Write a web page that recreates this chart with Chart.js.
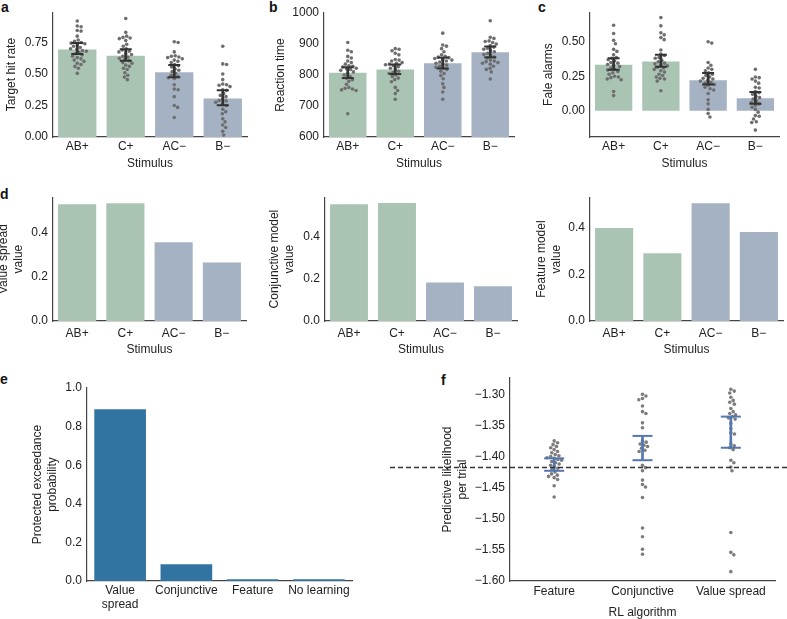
<!DOCTYPE html>
<html><head><meta charset="utf-8">
<script src="https://cdn.jsdelivr.net/npm/chart.js@4"></script>
<style>
html,body{margin:0;padding:0;background:#fff;width:787px;height:619px;overflow:hidden;position:relative;font-family:"Liberation Sans",Arial,Helvetica,sans-serif;}
canvas{position:absolute;}
.lbl{position:absolute;font-weight:bold;font-size:14px;line-height:1;color:#111;}
</style></head><body>
<div class="lbl" style="left:1px;top:0px">a</div>
<div class="lbl" style="left:269px;top:0px">b</div>
<div class="lbl" style="left:538px;top:0px">c</div>
<div class="lbl" style="left:0px;top:187px">d</div>
<div class="lbl" style="left:0px;top:372px">e</div>
<div class="lbl" style="left:441px;top:373px">f</div>
<canvas id="pa"></canvas><canvas id="pb"></canvas><canvas id="pc"></canvas>
<canvas id="pd1"></canvas><canvas id="pd2"></canvas><canvas id="pd3"></canvas>
<canvas id="pe"></canvas><canvas id="pf"></canvas>
<script>
// ---------------- DATA ----------------
const stimuli = ['AB+', 'C+', 'AC\u2212', 'B\u2212'];

// a: target hit rate
const aMeans  = [0.694, 0.645, 0.514, 0.306];
const aCiLow  = [0.658, 0.605, 0.473, 0.251];
const aCiHigh = [0.746, 0.697, 0.572, 0.371];
const aDotsABp = [0.92,0.88,0.875,0.845,0.84,0.80,0.77,0.76,0.75,0.745,0.74,0.73,0.72,0.71,0.70,0.695,0.685,0.68,0.67,0.66,0.65,0.64,0.63,0.62,0.61,0.60,0.585,0.575,0.56,0.545,0.505];
const aDotsCp  = [0.94,0.83,0.80,0.79,0.785,0.78,0.765,0.735,0.72,0.70,0.69,0.68,0.675,0.66,0.655,0.64,0.635,0.625,0.615,0.605,0.59,0.585,0.57,0.56,0.545,0.535,0.51,0.49,0.475,0.455];
const aDotsACm = [0.755,0.75,0.675,0.645,0.64,0.635,0.63,0.62,0.61,0.60,0.59,0.575,0.565,0.555,0.54,0.53,0.52,0.505,0.49,0.48,0.47,0.465,0.415,0.38,0.375,0.32,0.25,0.235,0.155];
const aDotsBm  = [0.72,0.58,0.575,0.50,0.455,0.42,0.415,0.41,0.40,0.375,0.37,0.345,0.33,0.32,0.30,0.29,0.285,0.275,0.26,0.25,0.22,0.20,0.185,0.145,0.12,0.095,0.075,0.045,0.015];
const aTicks = [0, 0.25, 0.5, 0.75];

// b: reaction time
const bMeans  = [807, 818, 838, 873];
const bCiLow  = [790, 803, 821, 857];
const bCiHigh = [825, 834, 856, 892];
const bDotsABp = [905,880,875,860,855,845,840,835,830,828,826,822,820,818,815,810,805,800,795,790,785,780,770,760,757,755,752,750,675];
const bDotsCp  = [885,883,878,870,865,850,848,845,840,838,835,833,830,827,822,818,812,808,805,800,795,790,785,778,760,750,740,722];
const bDotsACm = [935,897,893,885,875,865,860,858,856,853,850,848,845,842,838,835,832,828,825,822,818,812,805,798,788,772,760,745,722];
const bDotsBm  = [975,922,918,910,908,905,900,895,890,886,883,878,875,870,866,862,858,855,848,845,843,840,838,835,828,822,818,810,787];
const bTicks = [600, 700, 800, 900, 1000];

// c: false alarms
const cMeans  = [0.333, 0.357, 0.221, 0.091];
const cCiLow  = [0.298, 0.319, 0.190, 0.050];
const cCiHigh = [0.381, 0.405, 0.274, 0.136];
const cDotsABp = [0.62,0.56,0.51,0.485,0.445,0.43,0.405,0.385,0.38,0.37,0.36,0.35,0.345,0.335,0.33,0.32,0.31,0.30,0.295,0.285,0.275,0.265,0.25,0.245,0.24,0.23,0.225,0.14,0.11];
const cDotsCp  = [0.675,0.615,0.565,0.55,0.53,0.515,0.44,0.41,0.40,0.385,0.38,0.365,0.355,0.345,0.34,0.33,0.325,0.315,0.31,0.30,0.29,0.28,0.265,0.255,0.245,0.235,0.23,0.215,0.145];
const cDotsACm = [0.50,0.49,0.35,0.33,0.31,0.30,0.29,0.275,0.265,0.255,0.245,0.235,0.23,0.22,0.215,0.205,0.20,0.19,0.185,0.17,0.16,0.15,0.125,0.08,0.05,0.01,-0.02,-0.045];
const cDotsBm  = [0.30,0.245,0.24,0.23,0.215,0.20,0.17,0.165,0.14,0.13,0.12,0.105,0.095,0.085,0.07,0.06,0.05,0.04,0.025,0.01,-0.01,-0.035,-0.04,-0.06,-0.08,-0.085,-0.14];
const cTicks = [0, 0.25, 0.5];

// d: model values
const dValueSpread = [0.530, 0.535, 0.358, 0.265];
const dConjunctive = [0.554, 0.560, 0.183, 0.165];
const dFeature     = [0.400, 0.292, 0.507, 0.383];
const dTicks = [0, 0.2, 0.4];

// e: protected exceedance probability
const eModels = [['Value', 'spread'], 'Conjunctive', 'Feature', 'No learning'];
const eValues = [0.89, 0.0865, 0.009, 0.009];
const eTicks = [0, 0.2, 0.4, 0.6, 0.8, 1.0];

// f: predictive likelihood per trial
const fAlgorithms = ['Feature', 'Conjunctive', 'Value spread'];
const fCiLow  = [-1.423, -1.406, -1.386];
const fCiHigh = [-1.403, -1.367, -1.336];
const fBaseline = -1.4177;
const fDotsFeature = [-1.375,-1.378,-1.381,-1.384,-1.386,-1.389,-1.392,-1.394,-1.397,-1.399,-1.400,-1.402,-1.403,-1.405,-1.406,-1.408,-1.410,-1.412,-1.414,-1.416,-1.419,-1.421,-1.425,-1.428,-1.430,-1.432,-1.434,-1.437,-1.447,-1.465];
const fDotsConjunctive = [-1.300,-1.303,-1.307,-1.309,-1.319,-1.328,-1.331,-1.346,-1.354,-1.375,-1.377,-1.380,-1.382,-1.384,-1.387,-1.390,-1.392,-1.414,-1.418,-1.423,-1.438,-1.445,-1.449,-1.466,-1.515,-1.529,-1.549,-1.557];
const fDotsValueSpread = [-1.292,-1.295,-1.298,-1.305,-1.310,-1.313,-1.316,-1.323,-1.328,-1.331,-1.333,-1.336,-1.338,-1.340,-1.347,-1.355,-1.362,-1.364,-1.380,-1.383,-1.386,-1.389,-1.406,-1.410,-1.417,-1.423,-1.522,-1.554,-1.558,-1.585];
const fTicks = [-1.60, -1.55, -1.50, -1.45, -1.40, -1.35, -1.30];

// ---------------- STYLE / HELPERS ----------------
Chart.defaults.font.family = '"Liberation Sans", Arial, Helvetica, sans-serif';
Chart.defaults.font.size = 12;
Chart.defaults.color = '#222';
const GREEN = '#aac4b4', GREY = '#a4b2c4', BLUE = '#3274a1', AXIS = '#444';
const stimColors = [GREEN, GREEN, GREY, GREY];
const minus = s => s.replace('-', '\u2212');

function swarmOffsets(ys, d) {
  const idx = ys.map((y, i) => i).sort((a, b) => ys[a] - ys[b]);
  const placed = [], out = new Array(ys.length).fill(0);
  for (const i of idx) {
    const y = ys[i];
    const near = placed.filter(p => Math.abs(p.y - y) < d);
    const cands = [0];
    for (const p of near) { const dx = Math.sqrt(d * d - (p.y - y) ** 2); cands.push(p.x + dx, p.x - dx); }
    cands.sort((a, b) => Math.abs(a) - Math.abs(b));
    let x = 0;
    for (const c of cands) {
      if (near.every(p => (p.x - c) ** 2 + (p.y - y) ** 2 >= d * d - 1e-6)) { x = c; break; }
    }
    placed.push({x, y}); out[i] = x;
  }
  return out;
}
const swarmPlugin = {
  id: 'swarm',
  afterDatasetsUpdate(chart) {
    chart.data.datasets.forEach((ds, i) => {
      if (!ds.swarm) return;
      const els = chart.getDatasetMeta(i).data;
      const offs = swarmOffsets(els.map(e => e.y), ds.swarmGap);
      els.forEach((e, k) => { e.x += offs[k]; });
    });
  }
};
const hlinePlugin = {
  id: 'hline',
  afterDatasetsDraw(chart, args, opts) {
    if (!opts || opts.value == null) return;
    const y = chart.scales.y.getPixelForValue(opts.value);
    const ctx = chart.ctx;
    ctx.save(); ctx.strokeStyle = opts.color; ctx.lineWidth = opts.width; ctx.setLineDash(opts.dash);
    ctx.beginPath(); ctx.moveTo(0, y); ctx.lineTo(chart.width, y); ctx.stroke(); ctx.restore();
  }
};

function makePanel(p) {
  const cv = document.getElementById(p.id);
  const {L, T, W, H} = p.box;
  cv.width = W; cv.height = H; cv.style.left = L + 'px'; cv.style.top = T + 'px';
  const a = p.area;
  const Wy = a.l - L, pt = a.t - T, pr = L + W - a.r, Hx = T + H - a.b;
  const xlh = p.xLabelLH || 14.4;
  const ds = [];
  if (p.values) ds.push({type: 'bar', data: p.values, backgroundColor: p.colors, borderWidth: 0, grouped: false,
    barPercentage: p.barPct || 0.79, categoryPercentage: 1, order: 10});
  if (p.dots) p.dots.forEach((arr, k) => ds.push({type: 'scatter', data: arr.map(v => ({x: p.labels[k], y: v})),
    swarm: true, swarmGap: p.dotGap, pointRadius: p.dotR, pointBackgroundColor: p.dotColor, pointBorderWidth: 0, order: 5}));
  if (p.ciLow) {
    ds.push({type: 'bar', data: p.ciLow.map((lo, k) => [lo, p.ciHigh[k]]), backgroundColor: p.errColor, borderWidth: 0,
      grouped: false, barThickness: p.errW, order: 2});
    ds.push({type: 'scatter', data: p.ciLow.map((v, k) => ({x: p.labels[k], y: v})).concat(p.ciHigh.map((v, k) => ({x: p.labels[k], y: v}))),
      pointStyle: 'line', pointRadius: p.capR, pointBorderColor: p.errColor, pointBorderWidth: p.errW, order: 1});
  }
  return new Chart(cv, {
    type: 'bar',
    data: {labels: p.labels, datasets: ds},
    plugins: [swarmPlugin, hlinePlugin],
    options: {
      responsive: false, animation: false, events: [], devicePixelRatio: 1,
      layout: {padding: {top: pt, right: pr, left: 0, bottom: 0}},
      plugins: {legend: {display: false}, tooltip: {enabled: false}, hline: p.hline || {}},
      scales: {
        x: {type: 'category', labels: p.labels, offset: true,
          grid: {display: false, drawTicks: false}, border: {display: true, color: AXIS, width: 1.2},
          ticks: {padding: p.xLabelY - a.b - xlh / 2, font: {size: 12, lineHeight: xlh / 12}, color: '#222', maxRotation: 0, autoSkip: false},
          title: p.xTitle ? {display: true, text: p.xTitle, color: '#222', font: {size: 12, lineHeight: 1.2},
            padding: {top: 0, bottom: T + H - p.xTitleY - 7.2}} : {display: false},
          afterFit(s) { s.height = Hx; }},
        y: {type: 'linear', min: p.yMin, max: p.yMax,
          grid: {display: false, drawTicks: false}, border: {display: true, color: AXIS, width: 1.2},
          ticks: {padding: 5, color: '#222', callback: p.yFmt},
          afterBuildTicks(s) { s.ticks = p.yTicks.map(v => ({value: v})); },
          title: {display: true, text: p.yTitle, color: '#222', font: {size: 12, lineHeight: 1.25},
            padding: {top: p.yTitleX - L - 7.5, bottom: 0}},
          afterFit(s) { s.width = Wy; }}
      }
    }
  });
}

const fmt2 = v => minus(Number(v).toFixed(2));
const fmt1 = v => Number(v).toFixed(1);
const fmt0 = v => String(Math.round(v));
const swarmStyle = {dotR: 1.8, dotGap: 3.9, dotColor: '#6e6e6e', errColor: '#333', errW: 2, capR: 6};

makePanel(Object.assign({id: 'pa', box: {L: 0, T: 0, W: 255, H: 180}, area: {l: 53, r: 250, t: 10, b: 137},
  labels: stimuli, values: aMeans, colors: stimColors, dots: [aDotsABp, aDotsCp, aDotsACm, aDotsBm],
  ciLow: aCiLow, ciHigh: aCiHigh, yMin: 0, yMax: 0.99, yTicks: aTicks, yFmt: fmt2,
  yTitle: 'Target hit rate', yTitleX: 12, xLabelY: 146.7, xTitle: 'Stimulus', xTitleY: 164}, swarmStyle));

makePanel(Object.assign({id: 'pb', box: {L: 262, T: 0, W: 260, H: 180}, area: {l: 324, r: 517, t: 13, b: 137},
  labels: stimuli, values: bMeans, colors: stimColors, dots: [bDotsABp, bDotsCp, bDotsACm, bDotsBm],
  ciLow: bCiLow, ciHigh: bCiHigh, yMin: 600, yMax: 1000, yTicks: bTicks, yFmt: fmt0,
  yTitle: 'Reaction time', yTitleX: 281, xLabelY: 146.7, xTitle: 'Stimulus', xTitleY: 164}, swarmStyle));

makePanel(Object.assign({id: 'pc', box: {L: 525, T: 0, W: 262, H: 180}, area: {l: 590, r: 787, t: 10, b: 137},
  labels: stimuli, values: cMeans, colors: stimColors, dots: [cDotsABp, cDotsCp, cDotsACm, cDotsBm],
  ciLow: cCiLow, ciHigh: cCiHigh, yMin: -0.19, yMax: 0.714, yTicks: cTicks, yFmt: fmt2,
  yTitle: 'Fale alarms', yTitleX: 549, xLabelY: 146.7, xTitle: 'Stimulus', xTitleY: 164}, swarmStyle));

makePanel({id: 'pd1', box: {L: -10, T: 185, W: 261, H: 180}, area: {l: 53, r: 246, t: 196, b: 321},
  labels: stimuli, values: dValueSpread, colors: stimColors, yMin: 0, yMax: 0.562, yTicks: dTicks, yFmt: fmt1,
  yTitle: ['Value spread', 'value'], yTitleX: 4, xLabelY: 333.5, xTitle: 'Stimulus', xTitleY: 349.5});

makePanel({id: 'pd2', box: {L: 262, T: 185, W: 260, H: 180}, area: {l: 325, r: 517, t: 197, b: 321},
  labels: stimuli, values: dConjunctive, colors: stimColors, yMin: 0, yMax: 0.588, yTicks: dTicks, yFmt: fmt1,
  yTitle: ['Conjunctive model', 'value'], yTitleX: 275, xLabelY: 333.5, xTitle: 'Stimulus', xTitleY: 349.5});

makePanel({id: 'pd3', box: {L: 525, T: 185, W: 262, H: 180}, area: {l: 590, r: 783, t: 197, b: 321},
  labels: stimuli, values: dFeature, colors: stimColors, yMin: 0, yMax: 0.533, yTicks: dTicks, yFmt: fmt1,
  yTitle: ['Feature model', 'value'], yTitleX: 542, xLabelY: 333.5, xTitle: 'Stimulus', xTitleY: 349.5});

makePanel({id: 'pe', box: {L: 0, T: 370, W: 360, H: 249}, area: {l: 87, r: 352, t: 388, b: 581},
  labels: eModels, values: eValues, colors: BLUE, barPct: 0.78, yMin: 0, yMax: 1.0, yTicks: eTicks, yFmt: fmt1,
  yTitle: ['Protected exceedance', 'probability'], yTitleX: 37.5, xLabelY: 591, xLabelLH: 13.3});

makePanel({id: 'pf', box: {L: 390, T: 365, W: 397, H: 258}, area: {l: 510, r: 786, t: 378, b: 581},
  labels: fAlgorithms, dots: [fDotsFeature, fDotsConjunctive, fDotsValueSpread],
  dotR: 1.8, dotGap: 3.9, dotColor: '#7c7c7c', errColor: '#5577b0', errW: 2, capR: 10,
  ciLow: fCiLow, ciHigh: fCiHigh, yMin: -1.60, yMax: -1.274, yTicks: fTicks, yFmt: fmt2,
  yTitle: ['Predictive likelihood', 'per trial'], yTitleX: 447.5, xLabelY: 591.7, xTitle: 'RL algorithm', xTitleY: 612.3,
  hline: {value: fBaseline, color: '#333', width: 1.5, dash: [5, 3]}});
</script>
</body></html>
